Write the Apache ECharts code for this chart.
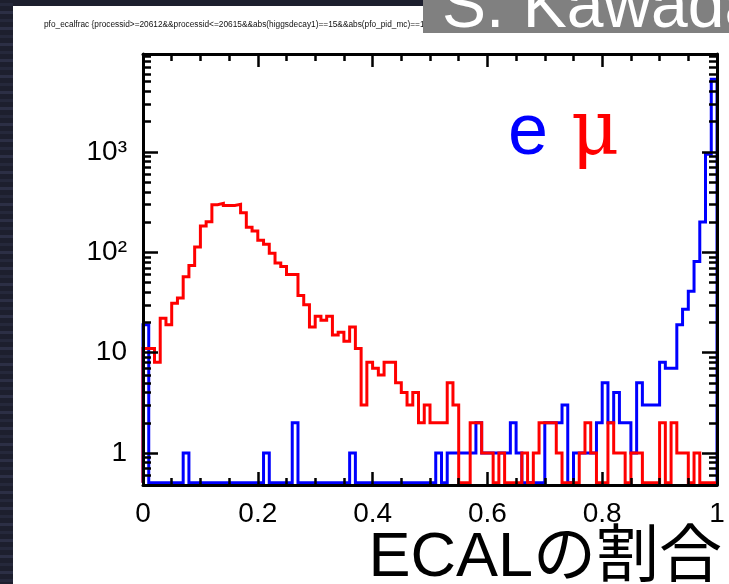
<!DOCTYPE html>
<html>
<head>
<meta charset="utf-8">
<script src="https://cdn.jsdelivr.net/npm/echarts@6/dist/echarts.min.js"></script>
<style>
  html, body { margin: 0; padding: 0; background: #1d1f2e; }
  #chart { width: 729px; height: 584px; }
</style>
</head>
<body>
<div id="chart"></div>
<script>
// ECAL energy fraction of PFOs, 100 bins over [0, 1]
const binCount = 100;
const binLow = 0;
const binHigh = 1;

// electron-matched PFOs (blue)
const electronCounts = [
  19, 0, 0, 0, 0, 0, 0, 1, 0, 0,
  0, 0, 0, 0, 0, 0, 0, 0, 0, 0,
  0, 1, 0, 0, 0, 0, 2, 0, 0, 0,
  0, 0, 0, 0, 0, 0, 1, 0, 0, 0,
  0, 0, 0, 0, 0, 0, 0, 0, 0, 0,
  0, 1, 0, 1, 1, 1, 1, 1, 2, 1,
  1, 1, 1, 1, 2, 1, 0, 0, 0, 0,
  2, 2, 2, 3, 0, 1, 1, 1, 1, 2,
  5, 2, 4, 2, 2, 1, 5, 3, 3, 3,
  8, 7, 7, 19, 27, 41, 81, 200, 950, 5300
];

// muon-matched PFOs (red)
const muonCounts = [
  11, 11, 8, 22, 19, 31, 35, 57, 74, 113,
  183, 201, 298, 307, 292, 292, 300, 248, 178, 163,
  132, 120, 98, 78, 72, 60, 60, 37, 30, 18,
  23, 21, 23, 15, 16, 13, 18, 11, 3, 8,
  7, 6, 8, 8, 5, 4, 3, 4, 2, 3,
  2, 2, 2, 5, 3, 0, 0, 2, 2, 1,
  1, 0, 1, 0, 0, 0, 1, 0, 1, 2,
  2, 2, 1, 0, 0, 0, 1, 2, 1, 0,
  0, 2, 1, 1, 0, 1, 1, 0, 0, 0,
  2, 0, 2, 1, 1, 0, 1, 0, 0, 0
];

const seriesNames = ['e', '\u03bc'];
const xTicks = [0, 0.2, 0.4, 0.6, 0.8, 1];
const yMajorTicks = [1, 10, 100, 1000];
const yMinorTicks = [0.6, 0.7, 0.8, 0.9,
  2, 3, 4, 5, 6, 7, 8, 9,
  20, 30, 40, 50, 60, 70, 80, 90,
  200, 300, 400, 500, 600, 700, 800, 900,
  2000, 3000, 4000, 5000, 6000, 7000, 8000, 9000];
const yMin = 0.48;
const yMax = 9450;
const emptyLevel = 0.505;   // empty bins rest on the frame floor

const titleText = 'pfo_ecalfrac {processid>=20612&&processid<=20615&&abs(higgsdecay1)==15&&abs(pfo_pid_mc)==11';
const authorText = 'S. Kawada';
const xAxisTitle = 'ECALの割合';

const binEdges = [];
for (let i = 0; i <= binCount; i++) binEdges.push(binLow + (binHigh - binLow) * i / binCount);

// outline of a ROOT-style histogram: a flat top per bin, vertical risers between bins
function outline(counts) {
  const pts = [[binEdges[0], emptyLevel]];
  counts.forEach((c, i) => {
    const v = c > 0 ? c : emptyLevel;
    pts.push([binEdges[i], v], [binEdges[i + 1], v]);
  });
  pts.push([binEdges[counts.length], emptyLevel]);
  return pts;
}

const sans = "'Liberation Sans', Arial, Helvetica, sans-serif";
const black = '#000';

function xAxisCfg(pos, withLabels) {
  return {
    type: 'value', position: pos, min: binLow, max: binHigh, interval: 0.2,
    z: 5,
    axisLine: { show: true, onZero: false, lineStyle: { color: black, width: 3 } },
    axisTick: { show: true, inside: true, length: 13, lineStyle: { color: black, width: 2.5 } },
    minorTick: { show: true, splitNumber: 4, length: 7, lineStyle: { color: black, width: 2.5 } },
    splitLine: { show: false },
    axisLabel: withLabels ? {
      show: true, margin: 15, fontSize: 28, color: black, fontFamily: sans,
      hideOverlap: false,
      formatter: v => xTicks.includes(+v.toFixed(2)) ? String(+v.toFixed(1)) : ''
    } : { show: false },
    name: withLabels ? xAxisTitle : '',
    nameLocation: 'end',
    nameGap: 5,
    nameMoveOverlap: false,
    nameTextStyle: {
      fontSize: 63, color: black,
      fontFamily: "'Liberation Sans', 'Noto Sans CJK JP', sans-serif",
      align: 'right', verticalAlign: 'top', padding: [42, 0, 0, 0]
    }
  };
}

function yAxisCfg(pos, ticks, len, withLine, withLabels) {
  return {
    type: 'log', logBase: 10, position: pos, min: yMin, max: yMax,
    z: 5,
    axisLine: { show: withLine, onZero: false, lineStyle: { color: black, width: 3 } },
    axisTick: { show: true, inside: true, length: len, customValues: ticks,
      lineStyle: { color: black, width: 2.5 } },
    minorTick: { show: false },
    splitLine: { show: false },
    axisLabel: withLabels ? {
      show: true, margin: 16, fontSize: 28, color: black, fontFamily: sans,
      customValues: yMajorTicks,
      formatter: v => {
        const e = Math.round(Math.log10(v));
        if (e === 2) return '10\u00b2';
        if (e === 3) return '10\u00b3';
        return String(Math.round(v));
      }
    } : { show: false }
  };
}

const chart = echarts.init(document.getElementById('chart'), null, { renderer: 'canvas' });

chart.setOption({
  animation: false,
  backgroundColor: 'transparent',
  grid: { left: 143, right: 12, top: 54, bottom: 99, containLabel: false, outerBoundsMode: 'none' },
  legend: {
    left: 498, top: 92, orient: 'horizontal',
    icon: 'rect', itemWidth: 0, itemHeight: 0, itemGap: 18,
    itemStyle: { opacity: 0 },
    selectedMode: false,
    data: [
      { name: seriesNames[0], textStyle: { color: '#0000ff', fontSize: 72, fontFamily: sans } },
      { name: seriesNames[1], textStyle: { color: '#ff0000', fontSize: 74,
        fontFamily: "'DejaVu Serif', 'Liberation Serif', serif" } }
    ]
  },
  xAxis: [xAxisCfg('bottom', true), xAxisCfg('top', false)],
  yAxis: [
    yAxisCfg('left', yMajorTicks, 15, true, true),
    yAxisCfg('left', yMinorTicks, 8, false, false),
    yAxisCfg('right', yMajorTicks, 15, true, false),
    yAxisCfg('right', yMinorTicks, 8, false, false)
  ],
  series: [
    {
      name: seriesNames[0], type: 'line', xAxisIndex: 0, yAxisIndex: 0,
      data: outline(electronCounts), showSymbol: false, symbol: 'none',
      lineStyle: { color: '#0000ff', width: 3, join: 'miter' }, itemStyle: { color: '#0000ff' },
      z: 2
    },
    {
      name: seriesNames[1], type: 'line', xAxisIndex: 0, yAxisIndex: 0,
      data: outline(muonCounts), showSymbol: false, symbol: 'none',
      lineStyle: { color: '#ff0000', width: 3, join: 'miter' }, itemStyle: { color: '#ff0000' },
      z: 3
    }
  ],
  graphic: [
    // slide background: dark frame and white page
    { type: 'rect', z: -20, shape: { x: 0, y: 0, width: 729, height: 584 }, style: { fill: '#1d1f2e' } },
    { type: 'rect', z: -19, shape: { x: 13, y: 6, width: 716, height: 578 }, style: { fill: '#ffffff' } },
    { type: 'group', z: -19, children: Array.from({ length: 74 }, (_, k) => ({
        type: 'rect', shape: { x: 0, y: k * 8 + 3, width: 13, height: 3 },
        style: { fill: k % 2 ? '#2c2f45' : '#25283b' } })) },
    { type: 'text', z: -18, x: 44, y: 25,
      style: { text: titleText, fill: '#111', font: '8.3px ' + sans, verticalAlign: 'middle' } },
    // speaker tag in the corner
    { type: 'rect', z: 50, shape: { x: 423, y: 0, width: 306, height: 33 }, style: { fill: '#808080' } },
    { type: 'text', z: 51, x: 442, y: 42,
      style: { text: authorText, fill: '#ffffff', font: '66px ' + sans, verticalAlign: 'bottom' } }
  ]
});
</script>
</body>
</html>
